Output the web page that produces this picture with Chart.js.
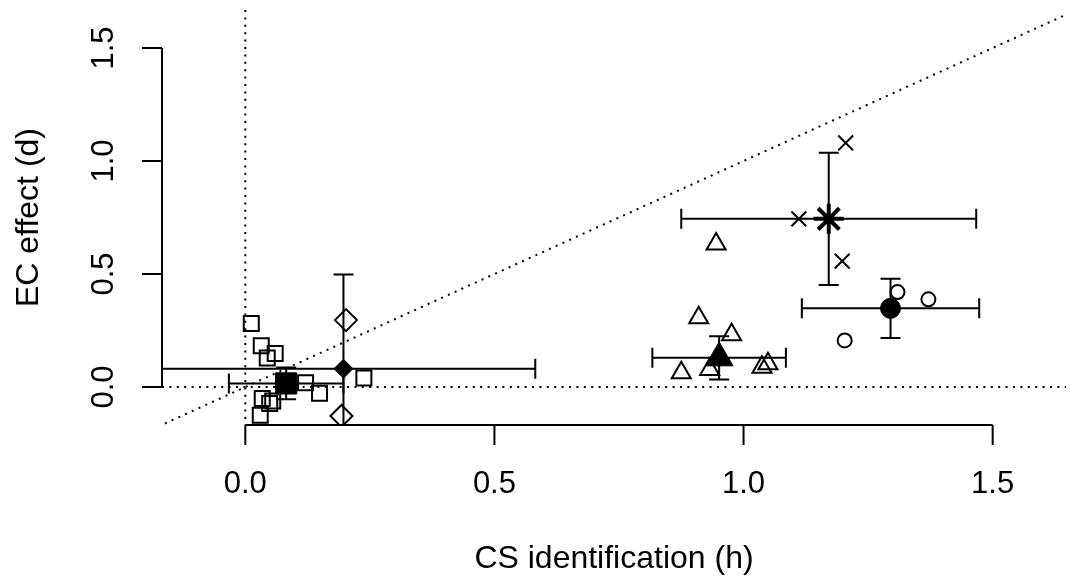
<!DOCTYPE html>
<html>
<head>
<meta charset="utf-8">
<script src="https://cdn.jsdelivr.net/npm/chart.js@4.4.1/dist/chart.umd.min.js"></script>
<style>
  html, body { margin: 0; padding: 0; background: #ffffff; }
  #plot { display: block; }
</style>
</head>
<body>
<canvas id="plot" width="1070" height="583"></canvas>
<script>
// axis ticks
const xTicks = [0, 0.5, 1.0, 1.5];
const yTicks = [0, 0.5, 1.0, 1.5];
const xTickLabels = ['0.0', '0.5', '1.0', '1.5'];
const yTickLabels = ['0.0', '0.5', '1.0', '1.5'];
const xTitle = 'CS identification (h)';
const yTitle = 'EC effect (d)';

// individual studies, per group
const squareX = [0.012, 0.032, 0.060, 0.044, 0.121, 0.149, 0.238, 0.034, 0.055, 0.049, 0.030];
const squareY = [0.281, 0.183, 0.148, 0.128, 0.019, -0.028, 0.040, -0.051, -0.062, -0.073, -0.125];
const diamondX = [0.202, 0.193];
const diamondY = [0.296, -0.128];
const triangleX = [0.945, 0.910, 0.976, 0.875, 0.932, 1.037, 1.049];
const triangleY = [0.633, 0.306, 0.231, 0.063, 0.078, 0.088, 0.103];
const crossX = [1.205, 1.111, 1.198];
const crossY = [1.080, 0.744, 0.557];
const circleX = [1.309, 1.371, 1.203];
const circleY = [0.420, 0.388, 0.206];

// group means (square, diamond, triangle, asterisk, circle) with half-widths of the bars
const meanX = [0.082, 0.197, 0.951, 1.171, 1.295];
const meanY = [0.016, 0.081, 0.129, 0.744, 0.348];
const errX = [0.115, 0.385, 0.134, 0.296, 0.178];
const errY = [0.070, 0.417, 0.096, 0.293, 0.131];

const FONT = '"Liberation Sans", Arial, Helvetica, sans-serif';
const TICK_SIZE = 31;
const TITLE_SIZE = 32;
const INK = '#000000';

function pts(xs, ys) {
  return xs.map((x, i) => ({ x: x, y: ys[i] }));
}

function openSet(xs, ys, style, radius) {
  return {
    data: pts(xs, ys),
    pointStyle: style,
    pointRadius: radius,
    pointBorderColor: INK,
    pointBackgroundColor: 'rgba(0,0,0,0)',
    pointBorderWidth: 2,
    showLine: false
  };
}

function meanSet(i, style, radius, filled, width) {
  return {
    data: [{ x: meanX[i], y: meanY[i] }],
    pointStyle: style,
    pointRadius: radius,
    pointBorderColor: INK,
    pointBackgroundColor: filled ? INK : 'rgba(0,0,0,0)',
    pointBorderWidth: width || 1,
    showLine: false
  };
}

// dotted reference lines: x = 0, y = 0 and y = x
const refLines = {
  id: 'refLines',
  beforeDatasetsDraw(chart) {
    const { ctx, chartArea: a, scales: { x, y } } = chart;
    ctx.save();
    ctx.beginPath();
    ctx.rect(a.left, a.top, a.right - a.left, a.bottom - a.top);
    ctx.clip();
    ctx.strokeStyle = INK;
    ctx.lineWidth = 2;
    ctx.setLineDash([2, 5.4]);
    ctx.beginPath();
    ctx.moveTo(x.getPixelForValue(0), a.top);
    ctx.lineTo(x.getPixelForValue(0), a.bottom);
    ctx.stroke();
    ctx.beginPath();
    ctx.moveTo(a.left, y.getPixelForValue(0));
    ctx.lineTo(a.right, y.getPixelForValue(0));
    ctx.stroke();
    ctx.beginPath();
    ctx.moveTo(x.getPixelForValue(-1), y.getPixelForValue(-1));
    ctx.lineTo(x.getPixelForValue(3), y.getPixelForValue(3));
    ctx.stroke();
    ctx.restore();
  }
};

// error bars around the group means, clipped to the plot region
const errorBars = {
  id: 'errorBars',
  afterDatasetsDraw(chart) {
    const { ctx, chartArea: a, scales: { x, y } } = chart;
    const cap = 10;
    ctx.save();
    ctx.beginPath();
    ctx.rect(a.left, a.top, a.right - a.left, a.bottom - a.top);
    ctx.clip();
    ctx.strokeStyle = INK;
    ctx.lineWidth = 2;
    ctx.lineCap = 'butt';
    meanX.forEach((mx, i) => {
      const px = x.getPixelForValue(mx);
      const py = y.getPixelForValue(meanY[i]);
      const x0 = x.getPixelForValue(mx - errX[i]);
      const x1 = x.getPixelForValue(mx + errX[i]);
      const y0 = y.getPixelForValue(meanY[i] - errY[i]);
      const y1 = y.getPixelForValue(meanY[i] + errY[i]);
      ctx.beginPath();
      ctx.moveTo(x0, py); ctx.lineTo(x1, py);
      ctx.moveTo(x0, py - cap); ctx.lineTo(x0, py + cap);
      ctx.moveTo(x1, py - cap); ctx.lineTo(x1, py + cap);
      ctx.moveTo(px, y0); ctx.lineTo(px, y1);
      ctx.moveTo(px - cap, y0); ctx.lineTo(px + cap, y0);
      ctx.moveTo(px - cap, y1); ctx.lineTo(px + cap, y1);
      ctx.stroke();
    });
    ctx.restore();
  }
};

// R-style axes: lines spanning the ticks only, outward ticks, rotated y labels
const axes = {
  id: 'axes',
  afterDraw(chart) {
    const { ctx, chartArea: a, scales: { x, y } } = chart;
    const tick = 20;
    ctx.save();
    ctx.strokeStyle = INK;
    ctx.fillStyle = INK;
    ctx.lineWidth = 2;
    ctx.textAlign = 'center';
    ctx.textBaseline = 'middle';

    // bottom axis
    ctx.beginPath();
    ctx.moveTo(x.getPixelForValue(xTicks[0]), a.bottom);
    ctx.lineTo(x.getPixelForValue(xTicks[xTicks.length - 1]), a.bottom);
    xTicks.forEach(v => {
      const px = x.getPixelForValue(v);
      ctx.moveTo(px, a.bottom);
      ctx.lineTo(px, a.bottom + tick);
    });
    ctx.stroke();
    ctx.font = TICK_SIZE + 'px ' + FONT;
    xTicks.forEach((v, i) => {
      ctx.fillText(xTickLabels[i], x.getPixelForValue(v), a.bottom + 59);
    });
    ctx.font = TITLE_SIZE + 'px ' + FONT;
    ctx.fillText(xTitle, (a.left + a.right) / 2, a.bottom + 134);

    // left axis
    ctx.beginPath();
    ctx.moveTo(a.left, y.getPixelForValue(yTicks[0]));
    ctx.lineTo(a.left, y.getPixelForValue(yTicks[yTicks.length - 1]));
    yTicks.forEach(v => {
      const py = y.getPixelForValue(v);
      ctx.moveTo(a.left, py);
      ctx.lineTo(a.left - tick, py);
    });
    ctx.stroke();
    ctx.font = TICK_SIZE + 'px ' + FONT;
    yTicks.forEach((v, i) => {
      ctx.save();
      ctx.translate(a.left - 58, y.getPixelForValue(v));
      ctx.rotate(-Math.PI / 2);
      ctx.fillText(yTickLabels[i], 0, 0);
      ctx.restore();
    });
    ctx.font = TITLE_SIZE + 'px ' + FONT;
    ctx.save();
    ctx.translate(a.left - 133, (a.top + a.bottom) / 2);
    ctx.rotate(-Math.PI / 2);
    ctx.fillText(yTitle, 0, 0);
    ctx.restore();
    ctx.restore();
  }
};

new Chart(document.getElementById('plot'), {
  type: 'scatter',
  data: {
    datasets: [
      openSet(squareX, squareY, 'rect', 10.6),
      openSet(diamondX, diamondY, 'rectRot', 11),
      openSet(triangleX, triangleY, 'triangle', 11),
      openSet(crossX, crossY, 'crossRot', 10.5),
      openSet(circleX, circleY, 'circle', 7),
      meanSet(0, 'rect', 15, true),
      meanSet(1, 'rectRot', 9.5, true),
      meanSet(2, 'triangle', 16, true),
      meanSet(3, 'star', 15, false, 4),
      meanSet(4, 'circle', 10, true)
    ]
  },
  options: {
    responsive: false,
    animation: false,
    layout: { autoPadding: false, padding: { left: 162, right: 4, top: 10, bottom: 158 } },
    scales: {
      x: { type: 'linear', min: -0.1672, max: 1.6472, display: false },
      y: { type: 'linear', min: -0.168, max: 1.668, display: false }
    },
    plugins: {
      legend: { display: false },
      tooltip: { enabled: false }
    }
  },
  plugins: [refLines, errorBars, axes]
});
</script>
</body>
</html>
